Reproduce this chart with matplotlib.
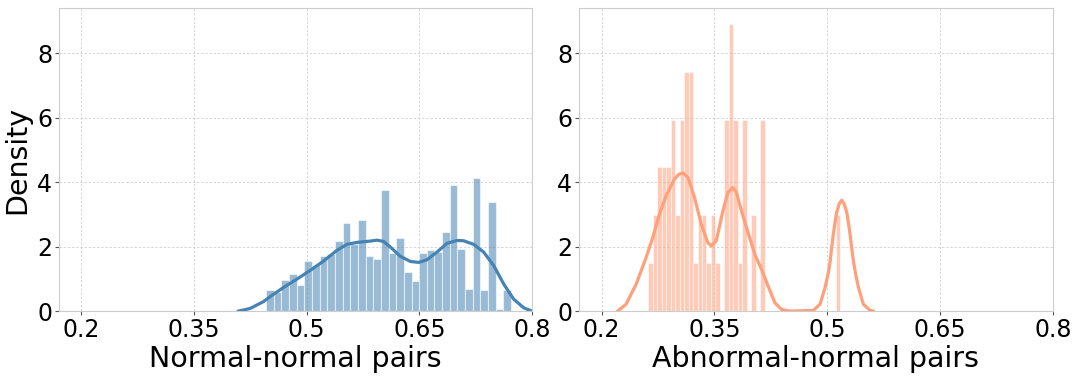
import numpy as np
import matplotlib
matplotlib.use("Agg")
import matplotlib.pyplot as plt

# Normal-normal pairs: histogram (density per bin)
nn_bin_start = 0.4459
nn_bin_width = 0.01019
nn_heights = [0.66, 0.60, 0.97, 1.15, 0.81, 1.54, 1.42, 1.72, 1.76, 2.16,
              2.72, 2.07, 2.82, 1.72, 1.62, 3.74, 1.80, 2.28, 1.22, 0.92,
              1.80, 1.90, 1.82, 2.44, 3.90, 1.94, 0.70, 4.12, 0.65, 3.37,
              0.05, 0.65]
# KDE curve
nn_kde_x = [0.409, 0.4245, 0.442, 0.4556, 0.469, 0.4868, 0.5045, 0.5223, 0.540,
            0.5535, 0.5668, 0.5845, 0.5935, 0.6023, 0.6112, 0.6245, 0.6379, 0.649,
            0.660, 0.6735, 0.6868, 0.700, 0.709, 0.7223, 0.7356, 0.749, 0.7623,
            0.7756, 0.789, 0.800]
nn_kde_y = [0.0, 0.08, 0.29, 0.52, 0.73, 0.99, 1.26, 1.55, 1.88,
            2.07, 2.13, 2.17, 2.20, 2.16, 1.99, 1.70, 1.54, 1.51,
            1.59, 1.83, 2.10, 2.19, 2.18, 2.07, 1.83, 1.41, 0.84,
            0.37, 0.10, 0.0]

# Abnormal-normal pairs
ab_bin_start = 0.2623
ab_bin_width = 0.005935
ab_heights = [1.485, 2.97, 4.455, 4.455, 4.455, 5.94, 2.97, 5.94, 7.425, 7.425,
              1.485, 2.97, 2.97, 1.485, 2.97, 1.485, 0, 5.94, 8.91, 5.94,
              1.485, 5.94, 0, 2.97, 0, 5.94, 0, 0, 0, 0,
              0, 0, 0, 0, 0, 0, 0, 0, 0, 0,
              0, 0, 2.97]
ab_kde_x = [0.2213, 0.2325, 0.2459, 0.2592, 0.268, 0.2769, 0.2859, 0.2969, 0.3025,
            0.308, 0.3147, 0.3236, 0.3325, 0.3413, 0.3459, 0.3525, 0.3613, 0.368,
            0.3739, 0.3792, 0.3859, 0.3925, 0.4036, 0.4125, 0.4213, 0.4303, 0.4392,
            0.4503, 0.4813, 0.4903, 0.497, 0.5015, 0.5036, 0.5058, 0.508, 0.5103,
            0.5125, 0.5158, 0.5192, 0.5225, 0.5259, 0.528, 0.5303, 0.5325, 0.5347,
            0.538, 0.5414, 0.548, 0.557, 0.561]
ab_kde_y = [0.0, 0.21, 0.83, 1.66, 2.28, 3.0, 3.58, 4.09, 4.24,
            4.28, 4.15, 3.52, 2.69, 2.12, 2.02, 2.18, 3.11, 3.68,
            3.83, 3.68, 3.11, 2.60, 1.76, 1.30, 0.78, 0.26, 0.05,
            0.0, 0.02, 0.21, 0.73, 1.20, 1.50, 1.95, 2.38, 2.75,
            3.06, 3.32, 3.44, 3.32, 3.06, 2.75, 2.38, 1.95, 1.55,
            1.12, 0.73, 0.21, 0.02, 0.0]

x_ticks = [0.2, 0.35, 0.5, 0.65, 0.8]
x_tick_labels = ["0.2", "0.35", "0.5", "0.65", "0.8"]
y_ticks = [0, 2, 4, 6, 8]

panels = [
    ("Normal-normal pairs", nn_bin_start, nn_bin_width, nn_heights,
     nn_kde_x, nn_kde_y, "#4682b4"),
    ("Abnormal-normal pairs", ab_bin_start, ab_bin_width, ab_heights,
     ab_kde_x, ab_kde_y, "#ffa07a"),
]

fig = plt.figure(figsize=(10.8, 3.78), dpi=100)
axes = [fig.add_axes([0.0546, 0.177, 0.438, 0.802]),
        fig.add_axes([0.5361, 0.177, 0.4389, 0.802])]

for ax, (label, start, width, heights, kx, ky, color) in zip(axes, panels):
    lefts = start + width * np.arange(len(heights))
    ax.bar(lefts, heights, width=width, align="edge", color=color,
           alpha=0.55, edgecolor="white", linewidth=0.8)
    ax.plot(kx, ky, color=color, linewidth=2.3, solid_joinstyle="round")

    ax.set_xlim(0.17, 0.8)
    ax.set_ylim(0, 9.4)
    ax.set_xticks(x_ticks)
    ax.set_xticklabels(x_tick_labels)
    ax.set_yticks(y_ticks)
    ax.tick_params(labelsize=17, length=3, color="#555555", pad=2)
    ax.grid(True, linestyle=(0, (3, 2)), color="#d0d0d0", linewidth=0.6)
    ax.set_axisbelow(True)
    for s in ax.spines.values():
        s.set_color("#cccccc")
    ax.set_xlabel(label, fontsize=20.5, labelpad=2)

axes[0].set_ylabel("Density", fontsize=20.5, labelpad=4)

fig.savefig("out.png", dpi=100)
